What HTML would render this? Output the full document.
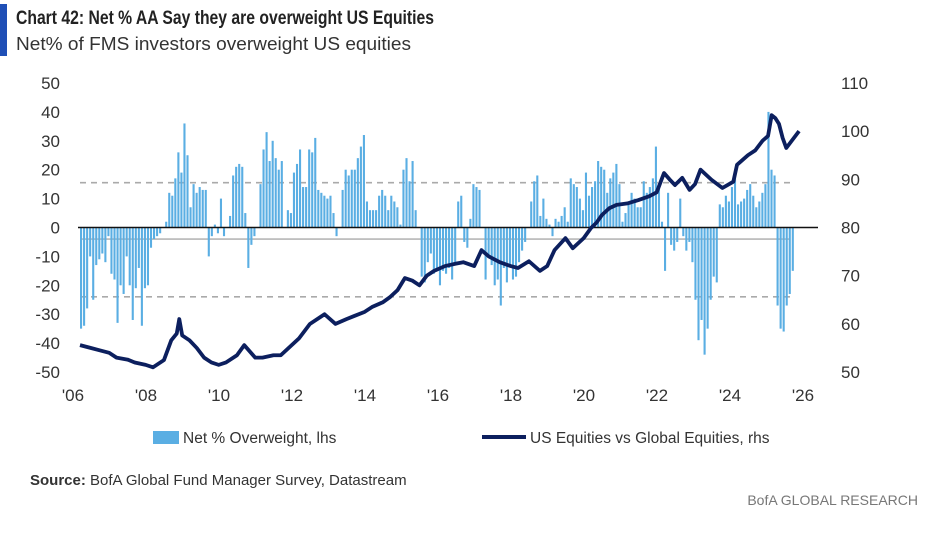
<!DOCTYPE html>
<html><head><meta charset="utf-8"><style>
body{margin:0;background:#fff;width:930px;height:528px;overflow:hidden;font-family:"Liberation Sans",sans-serif}
svg text{font-family:"Liberation Sans",sans-serif}
</style></head><body>
<svg id="c" width="930" height="528">
<rect x="0" y="4" width="7" height="52" fill="#1f4fb6"/>
<text x="16" y="24" font-size="19" font-weight="bold" fill="#222" textLength="418" lengthAdjust="spacingAndGlyphs">Chart 42: Net % AA Say they are overweight US Equities</text>
<text x="16" y="50" font-size="18" fill="#333" textLength="395" lengthAdjust="spacingAndGlyphs">Net% of FMS investors overweight US equities</text>
<g id="plot"></g>
<rect x="153" y="431" width="26" height="13" fill="#5aaee3"/>
<text x="183" y="443" font-size="15.5" fill="#333">Net % Overweight, lhs</text>
<line x1="482" y1="437" x2="526" y2="437" stroke="#0c1f5e" stroke-width="4"/>
<text x="530" y="443" font-size="15.5" fill="#333">US Equities vs Global Equities, rhs</text>
<text x="30" y="485" font-size="15" fill="#333"><tspan font-weight="bold">Source:</tspan> BofA Global Fund Manager Survey, Datastream</text>
<text x="918" y="505" font-size="14" fill="#777" text-anchor="end">BofA GLOBAL RESEARCH</text>
</svg>
<script>
const startYear = 2006;
const barValues = [
-35,-34,-28,-10,-25,-13,-11,-9,-12,-3,-16,-18,
-33,-20,-23,-10,-20,-32,-21,-14,-34,-21,-20,-7,
-4,-3,-2,0,2,12,11,17,26,19,36,25,
7,15,12,14,13,13,-10,-3,1,-2,10,-3,
0,4,18,21,22,21,5,-14,-6,-3,0,15,
27,33,23,30,24,20,23,0,6,5,19,22,
27,14,14,27,26,31,13,12,11,10,11,5,
-3,0,13,20,18,20,20,24,28,32,9,6,
6,6,11,13,11,6,11,9,7,1,20,24,
16,23,6,0,-17,-19,-12,-9,-16,-14,-20,-15,
-16,-14,-18,-12,9,11,-5,-7,3,15,14,13,
0,-18,-10,-13,-20,-18,-27,-14,-19,-13,-18,-17,
-12,-8,-5,0,9,16,18,4,10,3,1,-3,
3,2,4,7,2,17,15,14,10,6,19,11,
14,16,23,21,20,12,17,19,22,15,2,5,
9,12,10,7,7,16,12,14,17,28,14,2,
-15,12,-6,-8,-5,10,-3,-8,-5,-12,-25,-39,
-32,-44,-35,-25,-17,-19,8,7,11,9,14,18,
8,9,10,13,15,11,7,9,12,15,40,20,
18,-27,-35,-36,-27,-23,-15
];
const lineDates = [2006,2006.3,2006.5,2006.8,2007,2007.3,2007.5,2007.8,2008,2008.3,2008.5,2008.65,2008.72,2008.8,2009,2009.2,2009.4,2009.6,2009.8,2010,2010.3,2010.5,2010.8,2011,2011.3,2011.5,2011.8,2012,2012.3,2012.7,2013,2013.3,2013.5,2013.8,2014,2014.3,2014.5,2014.7,2014.9,2015.1,2015.3,2015.5,2015.7,2016,2016.3,2016.5,2016.8,2017,2017.2,2017.5,2017.8,2018,2018.3,2018.6,2018.8,2019,2019.3,2019.5,2019.8,2020,2020.15,2020.3,2020.5,2020.7,2021,2021.3,2021.6,2021.8,2022,2022.15,2022.3,2022.5,2022.7,2022.85,2023,2023.3,2023.6,2023.9,2024,2024.3,2024.5,2024.7,2024.85,2024.95,2025.05,2025.15,2025.25,2025.35,2025.5,2025.7];
const lineValues = [55.6,55,54.6,54,53,52.6,52,51.5,51,52.5,56.6,58,61,57.6,56.6,55,53,52,51.5,52,53.5,55.6,53,53,53.5,53.5,55.6,57,60,62,60,61,61.6,62.5,63.5,64.5,65.6,67,69.5,69,68,70,71,72,72.5,72.8,72,75.3,74,72.8,72,71.6,73,71,72,75.3,77.8,75.7,77.8,79.9,81,82.6,84,84.7,85,85.7,86.5,87.3,91.3,90,88.8,90.3,87.8,89,92,89.9,88.2,89.5,93,95,96,98,99,103.3,102.7,101.5,98.6,96.5,98,100];
const leftTicks = [50,40,30,20,10,0,-10,-20,-30,-40,-50];
const rightTicks = [110,100,90,80,70,60,50];
const xTickLabels = ["'06","'08","'10","'12","'14","'16","'18","'20","'22","'24","'26"];
const xTickYears = [2006,2008,2010,2012,2014,2016,2018,2020,2022,2024,2026];

const NS="http://www.w3.org/2000/svg";
const plot=document.getElementById('plot');
const xs=y=>80+(y-2006)*36.5;
const yl=v=>227.5-v*2.89;
const yr=v=>227.5-(v-80)*4.82;
function mk(t,a){const e=document.createElementNS(NS,t);for(const k in a)e.setAttribute(k,a[k]);plot.appendChild(e);return e;}

for(const v of [15.5,-24]){
  const d=mk('line',{x1:80,x2:790,y1:yl(v),y2:yl(v),stroke:'#aaa','stroke-width':1.6,'stroke-dasharray':'6,5'});
  
  
}
const g=mk('line',{x1:80,x2:790,y1:yl(-4),y2:yl(-4),stroke:'#aaa','stroke-width':1.3});



barValues.forEach((v,i)=>{
  const x=xs(startYear+i/12)+1;
  const r=mk('rect',{x:x-1,width:2.1,y:Math.min(yl(v),yl(0)),height:Math.abs(yl(v)-yl(0)),fill:'#5aaee3'});
  
  
});
const z=mk('line',{x1:78,x2:818,y1:yl(0),y2:yl(0),stroke:'#111','stroke-width':1.6});



const p=mk('polyline',{points:lineDates.map((d,i)=>xs(d)+','+yr(lineValues[i])).join(' '),fill:'none',stroke:'#0c1f5e','stroke-width':3.8,'stroke-linejoin':'round'});



leftTicks.forEach(v=>{
  const t=mk('text',{x:60,y:yl(v)+6,'font-size':17,fill:'#333','text-anchor':'end'});t.textContent=v;
  
  
});
rightTicks.forEach(v=>{
  const t=mk('text',{x:841,y:yr(v)+6,'font-size':17,fill:'#333'});t.textContent=v;
  
  
});
xTickYears.forEach((y,i)=>{
  const t=mk('text',{x:xs(y)-7,y:401,'font-size':17,fill:'#333','text-anchor':'middle'});t.textContent=xTickLabels[i];
  
  
});
</script>
</body></html>
